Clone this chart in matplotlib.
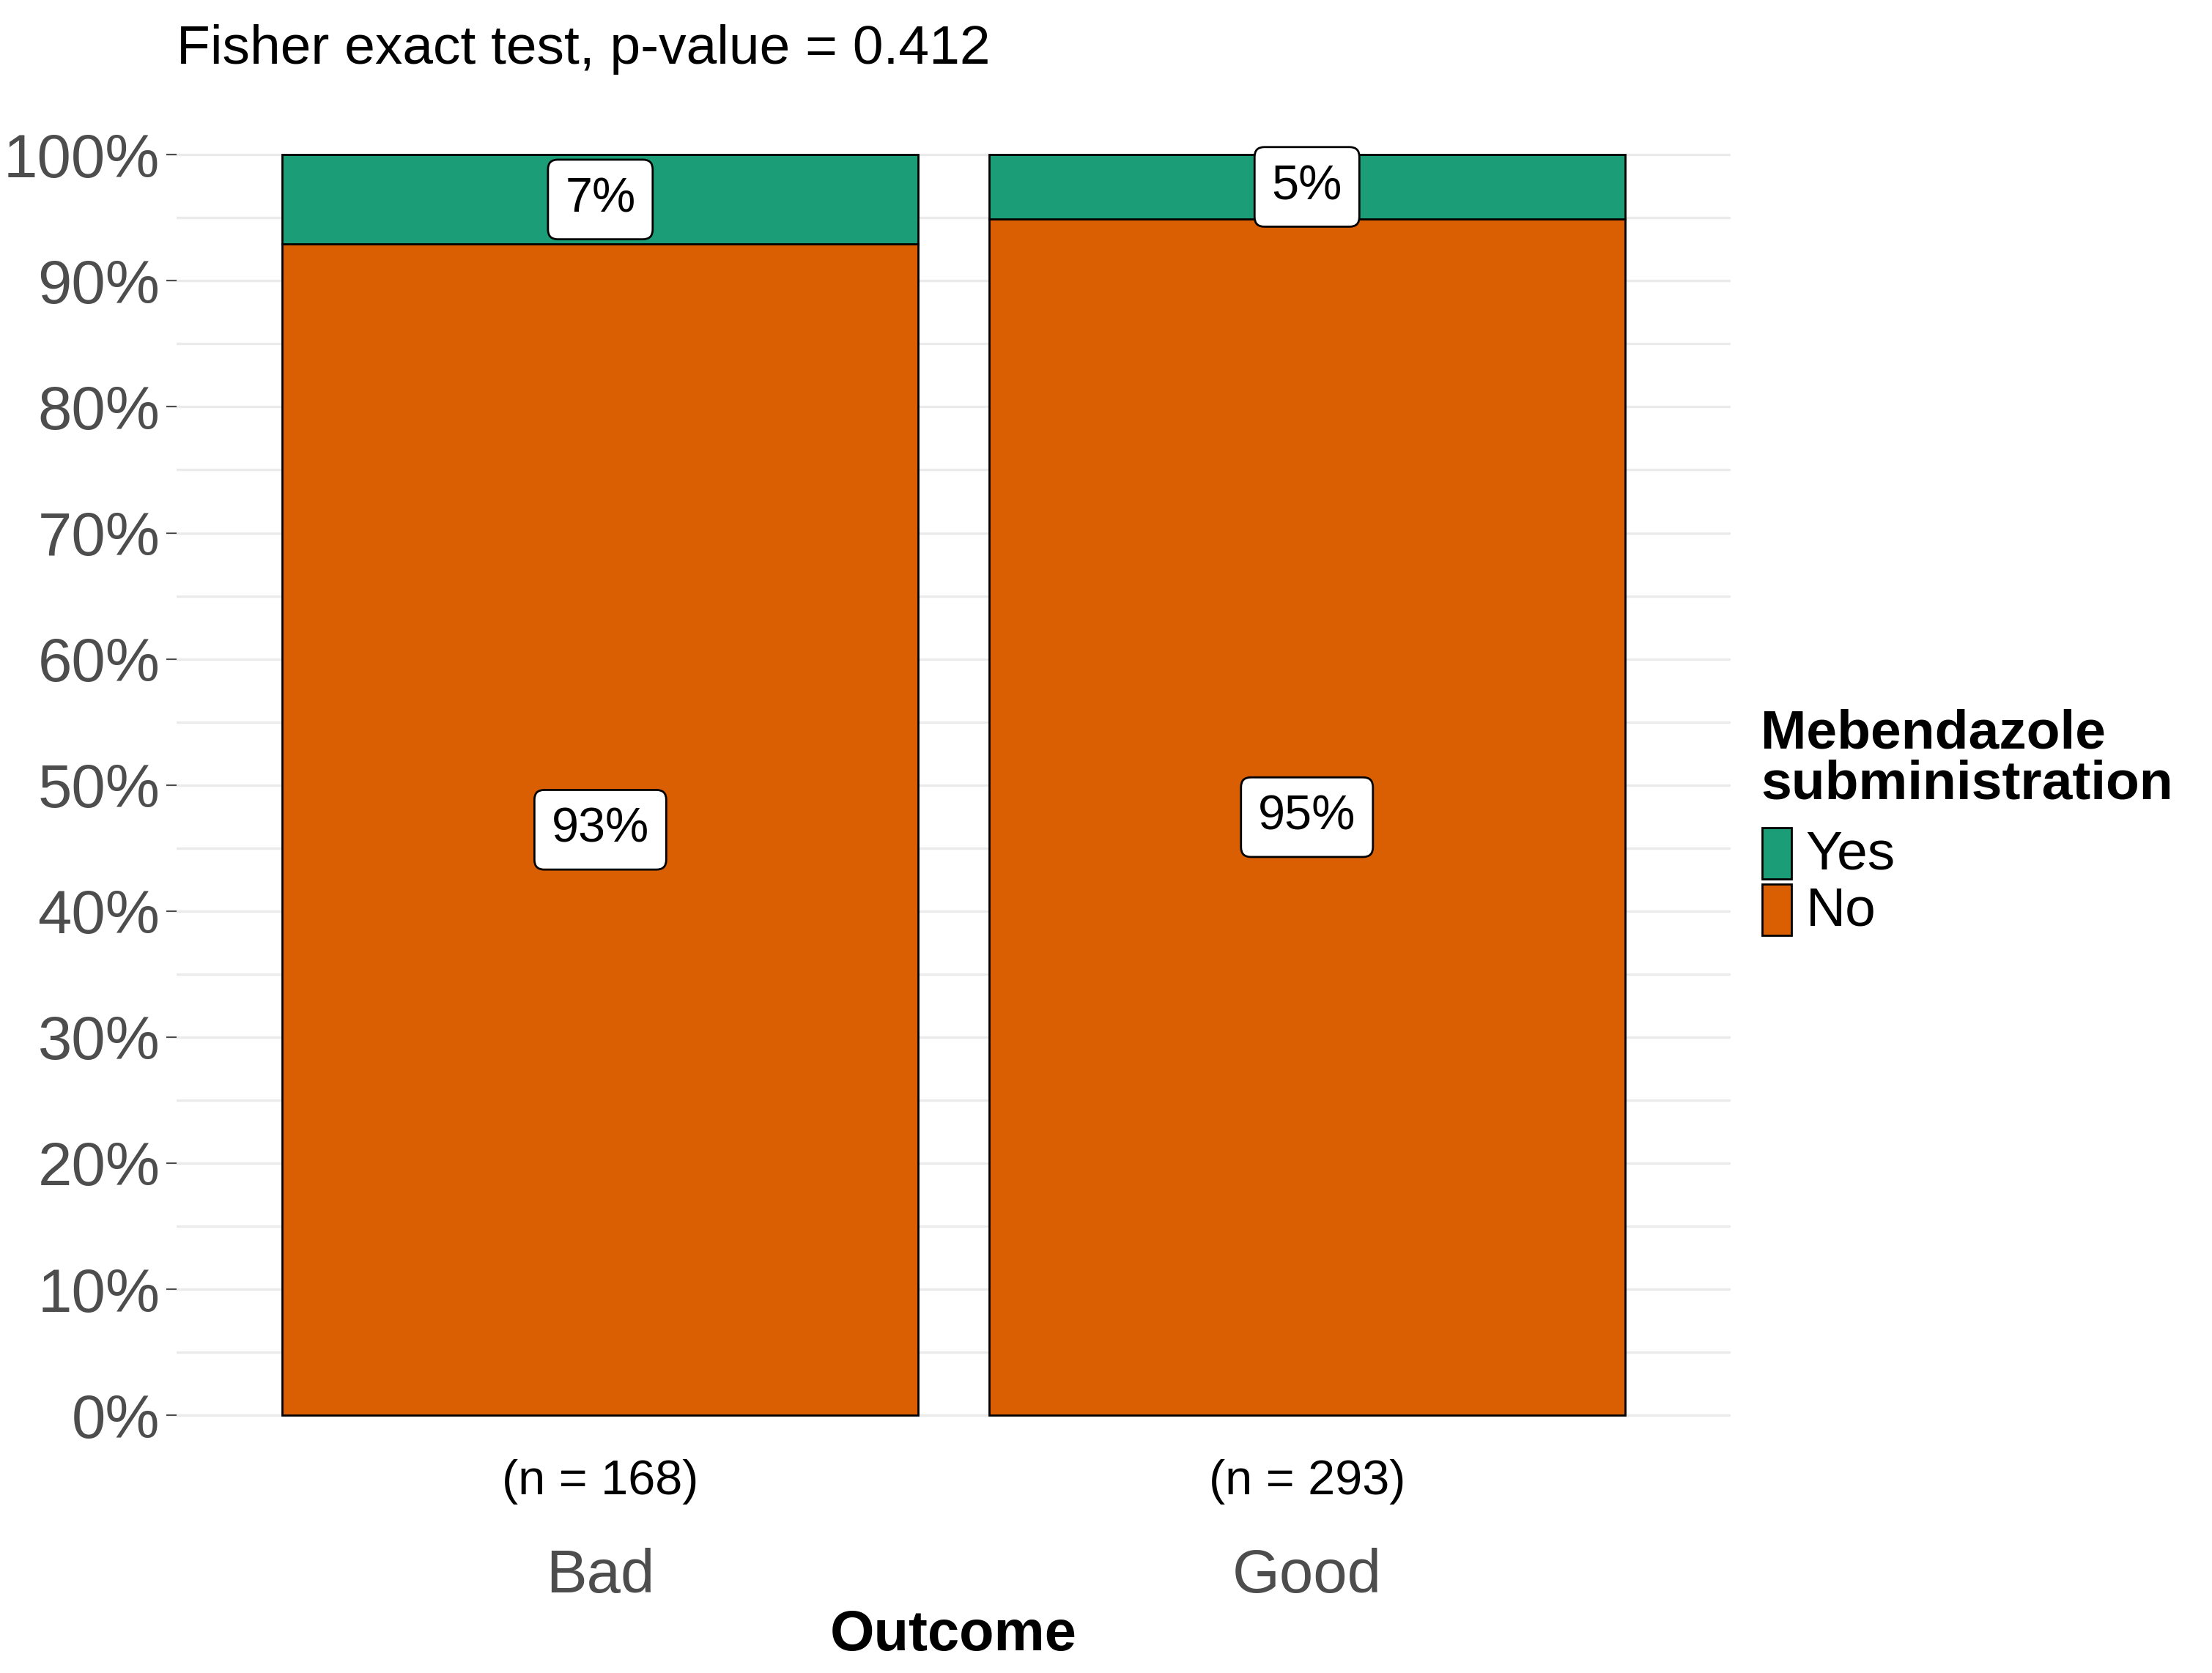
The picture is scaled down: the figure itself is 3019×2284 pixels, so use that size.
import matplotlib
matplotlib.use("Agg")
import matplotlib.pyplot as plt
from matplotlib.patches import Rectangle

plt.rcParams["font.family"] = ["Liberation Sans", "DejaVu Sans"]

# data
outcomes = ["Bad", "Good"]
n_counts = [168, 293]
pct_no = [92.9, 94.9]
pct_yes = [7.1, 5.1]
label_no = ["93%", "95%"]
label_yes = ["7%", "5%"]
col_yes = "#1B9E77"
col_no = "#D95F02"

W, H = 1568, 1186  # display-space helpers for layout
fig = plt.figure(figsize=(15.095, 11.42), dpi=200)
ax = fig.add_axes([125 / W, 1 - 1048 / H, (1227 - 125) / W, (1048 - 65) / H])

x = [1, 2]
ax.bar(x, pct_no, width=0.9, color=col_no, edgecolor="black", linewidth=1, zorder=3)
ax.bar(x, pct_yes, bottom=pct_no, width=0.9, color=col_yes, edgecolor="black",
       linewidth=1, zorder=3)

box = dict(boxstyle="round,pad=0.35,rounding_size=0.2", fc="white", ec="black", lw=1)
for i in range(2):
    ax.text(x[i], pct_no[i] / 2, label_no[i], ha="center", va="center",
            fontsize=24, bbox=box, zorder=5)
    ax.text(x[i], pct_no[i] + pct_yes[i] / 2, label_yes[i], ha="center", va="center",
            fontsize=24, bbox=box, zorder=5)
    ax.text(x[i], -5.3, f"(n = {n_counts[i]})", ha="center", va="center",
            fontsize=24, clip_on=False)

ax.set_xlim(0.4, 2.6)
ax.set_ylim(-5, 105)
ax.set_yticks(range(0, 101, 10))
ax.set_yticklabels([f"{v}%" for v in range(0, 101, 10)], fontsize=30, color="#4D4D4D")
ax.set_yticks(range(5, 100, 10), minor=True)
ax.tick_params(axis="y", which="major", length=5, color="#4D4D4D", pad=3)
ax.tick_params(axis="y", which="minor", length=0)
ax.set_xticks(x)
ax.set_xticklabels(outcomes, fontsize=30, color="#4D4D4D")
ax.tick_params(axis="x", length=0, pad=34)
ax.grid(axis="y", which="both", color="#EBEBEB", lw=1.2, zorder=0)
for s in ax.spines.values():
    s.set_visible(False)
ax.set_xlabel("Outcome", fontsize=28, fontweight="bold", labelpad=2)

fig.text(125 / W, 1 - 35 / H, "Fisher exact test, p-value = 0.412", fontsize=27,
         ha="left", va="center")

# legend
fig.text(1248 / W, 1 - 538 / H, "Mebendazole\nsubministration", fontsize=27,
         fontweight="bold", ha="left", va="center", linespacing=1.0)
for yk, col, lab in [(587, col_yes, "Yes"), (627, col_no, "No")]:
    fig.patches.append(Rectangle((1249 / W, 1 - (yk + 36) / H), 21 / W, 36 / H,
                                 transform=fig.transFigure, fc=col, ec="black", lw=1))
    fig.text(1280 / W, 1 - (yk + 19) / H, lab, fontsize=27, ha="left", va="center")

fig.savefig("out.png", dpi=200)
